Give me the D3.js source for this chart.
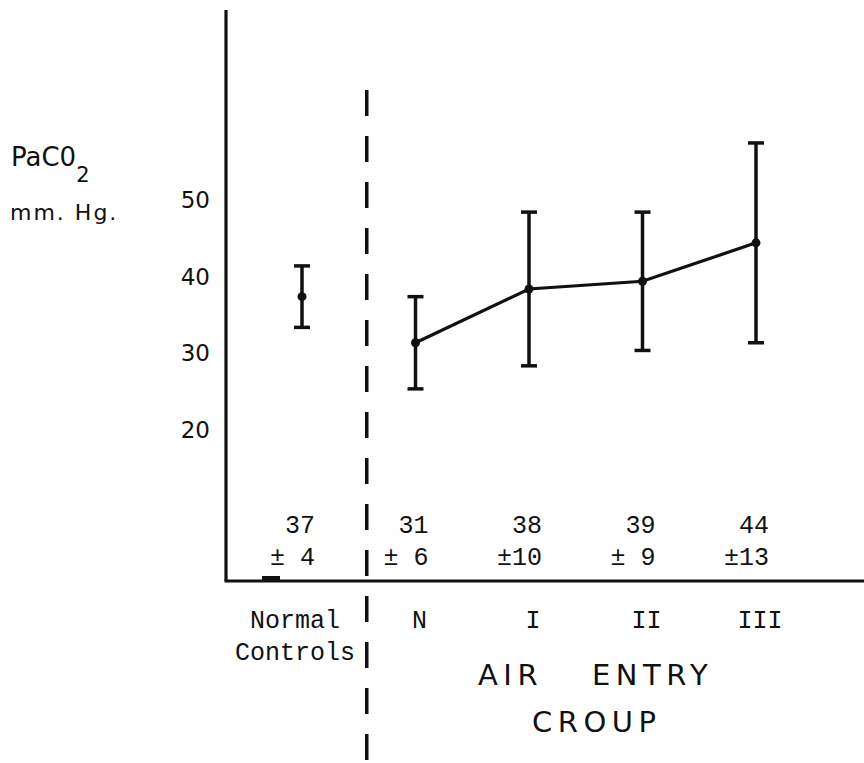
<!DOCTYPE html>
<html>
<head>
<meta charset="utf-8">
<script src="https://cdn.jsdelivr.net/npm/d3@7"></script>
<style>
  html, body { margin: 0; padding: 0; background: #fff; }
  svg { display: block; }
</style>
</head>
<body>
<svg id="chart" width="864" height="763"></svg>
<script>
// PaCO2 by group: normal controls and the four air-entry croup grades
const categories = ["Normal Controls", "N", "I", "II", "III"];
const categoryLines = [["Normal", "Controls"], ["N"], ["I"], ["II"], ["III"]];
const means = [37, 31, 38, 39, 44];
const sds = [4, 6, 10, 9, 13];
const yTicks = [20, 30, 40, 50];
const groupTitleWords = ["AIR", "ENTRY"];
const groupTitleLine2 = "CROUP";

const ink = "#111";
const svg = d3.select("#chart");

// scales
const x = d3.scalePoint().domain(categories).range([302, 756]);
const y = d3.scaleLinear().domain([0, 74.3]).range([581, 10]);
const axisX0 = 226, axisRight = 864;
const y0 = y(0);

// axes lines
svg.append("line")
  .attr("x1", axisX0).attr("x2", axisX0)
  .attr("y1", y.range()[1]).attr("y2", y0)
  .attr("stroke", ink).attr("stroke-width", 3.2);
svg.append("line")
  .attr("x1", axisX0 - 1.5).attr("x2", axisRight)
  .attr("y1", y0).attr("y2", y0)
  .attr("stroke", ink).attr("stroke-width", 3);
// small mark on the baseline under the controls column
svg.append("rect")
  .attr("x", 262).attr("y", y0 - 5).attr("width", 18).attr("height", 5)
  .attr("fill", ink);

// y tick labels (no tick marks)
svg.append("g").selectAll("text").data(yTicks).join("text")
  .attr("x", axisX0 - 16)
  .attr("y", d => y(d) + 3)
  .attr("text-anchor", "end")
  .attr("dominant-baseline", "central")
  .attr("font-family", "DejaVu Sans")
  .attr("font-size", 23)
  .attr("fill", ink)
  .text(d => d);

// y axis title
const yt = svg.append("text")
  .attr("x", 11).attr("y", 166)
  .attr("font-family", "DejaVu Sans")
  .attr("font-size", 26)
  .attr("fill", ink);
yt.append("tspan").text("PaC0");
yt.append("tspan").attr("font-size", 21).attr("dy", 16).text("2");
svg.append("text")
  .attr("x", 10).attr("y", 220)
  .attr("font-family", "DejaVu Sans")
  .attr("font-size", 22)
  .attr("letter-spacing", 2)
  .attr("fill", ink)
  .text("mm. Hg.");

// dashed divider between controls and croup groups
const divX = (x("Normal Controls") + x("N")) / 2 + 8;
svg.append("line")
  .attr("x1", divX).attr("x2", divX)
  .attr("y1", 90).attr("y2", 763)
  .attr("stroke", ink).attr("stroke-width", 3.5)
  .attr("stroke-dasharray", "26,20");

// error bars
const capW = 16;
const bars = svg.append("g").selectAll("g").data(categories).join("g");
bars.append("line")
  .attr("x1", d => x(d)).attr("x2", d => x(d))
  .attr("y1", (d, i) => y(means[i] + sds[i]))
  .attr("y2", (d, i) => y(means[i] - sds[i]))
  .attr("stroke", ink).attr("stroke-width", 3.5);
bars.append("line")
  .attr("x1", d => x(d) - capW / 2).attr("x2", d => x(d) + capW / 2)
  .attr("y1", (d, i) => y(means[i] + sds[i]))
  .attr("y2", (d, i) => y(means[i] + sds[i]))
  .attr("stroke", ink).attr("stroke-width", 3.5);
bars.append("line")
  .attr("x1", d => x(d) - capW / 2).attr("x2", d => x(d) + capW / 2)
  .attr("y1", (d, i) => y(means[i] - sds[i]))
  .attr("y2", (d, i) => y(means[i] - sds[i]))
  .attr("stroke", ink).attr("stroke-width", 3.5);

// line joining the croup group means
const croup = categories.slice(1).map((c, i) => [x(c), y(means[i + 1])]);
svg.append("path")
  .attr("d", d3.line()(croup))
  .attr("fill", "none")
  .attr("stroke", ink).attr("stroke-width", 3.2);

// mean points
bars.append("circle")
  .attr("cx", d => x(d))
  .attr("cy", (d, i) => y(means[i]))
  .attr("r", 4.5)
  .attr("fill", ink);

// mean ± sd labels above the baseline
const vals = svg.append("g").selectAll("g").data(categories).join("g")
  .attr("font-family", "Liberation Mono")
  .attr("font-size", 25)
  .attr("fill", ink)
  .attr("text-anchor", "end");
vals.append("text")
  .attr("x", d => x(d) + 13).attr("y", 533)
  .text((d, i) => String(means[i]));
vals.append("text")
  .attr("x", d => x(d) + 13).attr("y", 565)
  .attr("xml:space", "preserve")
  .style("white-space", "pre")
  .text((d, i) => "±" + String(sds[i]).padStart(2, " "));

// category labels below the baseline
const cl = svg.append("g").selectAll("text").data(categories).join("text")
  .attr("font-family", "Liberation Mono")
  .attr("font-size", 25)
  .attr("fill", ink)
  .attr("text-anchor", "middle");
cl.each(function (d, i) {
  d3.select(this).selectAll("tspan").data(categoryLines[i]).join("tspan")
    .attr("x", x(d) + (i === 0 ? -7 : 4))
    .attr("y", (t, j) => 628 + j * 32)
    .text(t => t);
});

// group title
const titleFont = { family: "DejaVu Sans", size: 29, spacing: 5.5 };
svg.append("text")
  .attr("x", 478).attr("y", 685)
  .attr("font-family", titleFont.family).attr("font-size", titleFont.size)
  .attr("letter-spacing", titleFont.spacing).attr("fill", ink)
  .text(groupTitleWords[0]);
svg.append("text")
  .attr("x", 592).attr("y", 685)
  .attr("font-family", titleFont.family).attr("font-size", titleFont.size)
  .attr("letter-spacing", titleFont.spacing).attr("fill", ink)
  .text(groupTitleWords[1]);
svg.append("text")
  .attr("x", 594 + titleFont.spacing / 2).attr("y", 732)
  .attr("text-anchor", "middle")
  .attr("font-family", titleFont.family).attr("font-size", titleFont.size)
  .attr("letter-spacing", titleFont.spacing).attr("fill", ink)
  .text(groupTitleLine2);
</script>
</body>
</html>
